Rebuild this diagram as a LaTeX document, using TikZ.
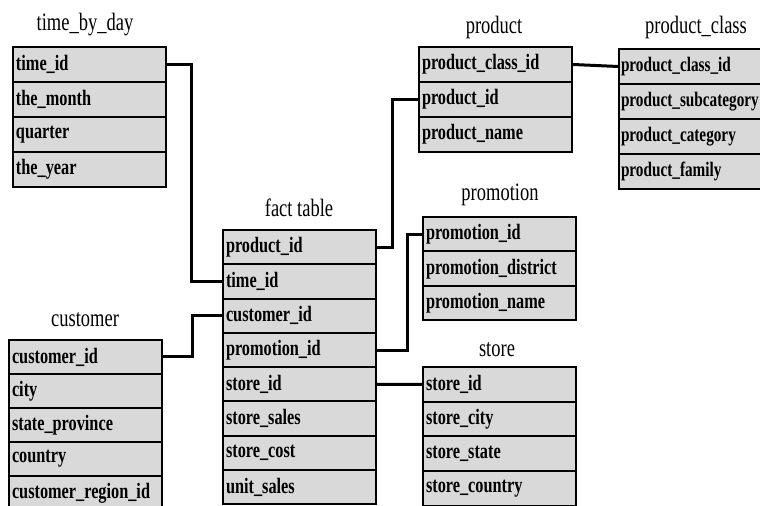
\documentclass[tikz,border=0pt]{standalone}
\usepackage{fontspec}
\newfontfamily\cellfont[FakeStretch=0.74]{Liberation Serif Bold}
\newfontfamily\titlefont[FakeStretch=0.74]{Liberation Serif}
\usetikzlibrary{positioning}

\begin{document}
\begin{tikzpicture}[
    x=0.5pt, y=-0.5pt,
    cell/.style={rectangle, draw, line width=1pt, fill=black!15, text width=73.5pt, inner sep=1.5pt, align=left, font=\cellfont\fontsize{11pt}{12pt}\selectfont},
    title/.style={font=\titlefont\fontsize{12.5pt}{13pt}\selectfont},
    link/.style={line width=1.5pt}
]
\useasboundingbox (0,0) rectangle (760,506);

% dimension tables and fact table
\foreach \txt [count=\i] in {time\_id, the\_month, quarter, the\_year}
    \node[cell, minimum height=17.5pt] (tbd-\i) at (89.5, {47+(\i-0.5)*35}) {\mbox{\txt}};
\node[title] (tbd) at (85,25) {time\_by\_day};

\foreach \txt [count=\i] in {product\_id, time\_id, customer\_id, promotion\_id, store\_id, store\_sales, store\_cost, unit\_sales}
    \node[cell, minimum height=17.15pt] (fact-\i) at (299.5, {230+(\i-0.5)*34.3}) {\mbox{\txt}};
\node[title] (fact) at (299,208) {fact table};

\foreach \txt [count=\i] in {product\_class\_id, product\_id, product\_name}
    \node[cell, minimum height=17.5pt] (prod-\i) at (495.5, {47+(\i-0.5)*35}) {\mbox{\txt}};
\node[title] (prod) at (494,27) {product};

\foreach \txt [count=\i] in {product\_class\_id, product\_subcategory, product\_category, product\_family}
    \node[cell, minimum height=17.5pt, inner xsep=1pt, font=\cellfont\fontsize{10.3pt}{12pt}\selectfont] (pcls-\i) at (694.5, {49+(\i-0.5)*35}) {\mbox{\txt}};
\node[title] (pcls) at (696,27) {product\_class};

\foreach \txt [count=\i] in {promotion\_id, promotion\_district, promotion\_name}
    \node[cell, minimum height=17.25pt] (promo-\i) at (499.5, {217+(\i-0.5)*34.5}) {\mbox{\txt}};
\node[title] (promo) at (500,195) {promotion};

\foreach \txt [count=\i] in {store\_id, store\_city, store\_state, store\_country}
    \node[cell, minimum height=17.35pt] (store-\i) at (499.5, {367+(\i-0.5)*34.7}) {\mbox{\txt}};
\node[title] (store) at (497,350) {store};

\foreach \txt [count=\i] in {customer\_id, city, state\_province, country, customer\_region\_id}
    \node[cell, minimum height=17pt] (cust-\i) at (85.5, {340+(\i-0.5)*34}) {\mbox{\txt}};
\node[title] (cust) at (85,320) {customer};

% key links
\draw[link] (tbd-1.east) -- ++(24,0) |- (fact-2.west);
\draw[link] (cust-1.east) -- ++(29,0) |- (fact-3.west);
\draw[link] (fact-1.east) -- ++(15,0) |- (prod-2.west);
\draw[link] (fact-4.east) -- ++(30,0) |- (promo-1.west);
\draw[link] (fact-5.east) -- (store-1.west);
\draw[link] (prod-1.east) -- (pcls-1.west);
\end{tikzpicture}
\end{document}
